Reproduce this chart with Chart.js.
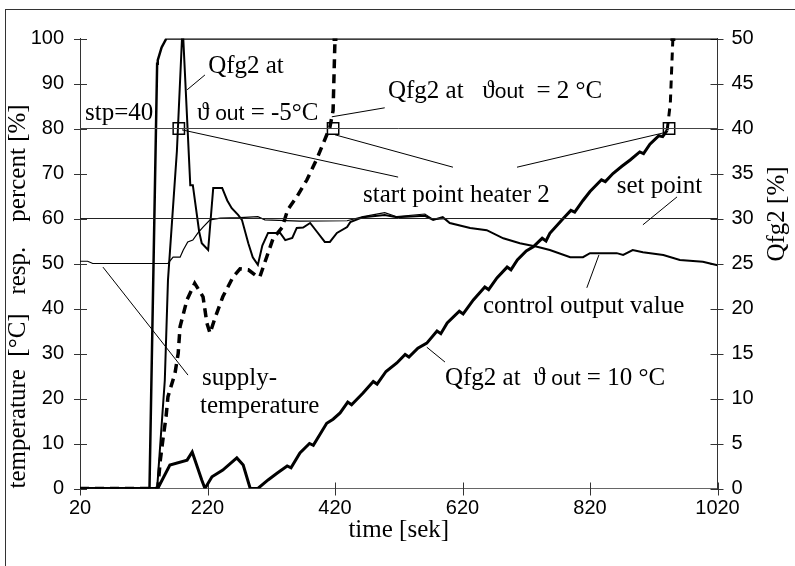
<!DOCTYPE html>
<html>
<head>
<meta charset="utf-8">
<script src="https://cdn.jsdelivr.net/npm/chart.js@4.4.1/dist/chart.umd.min.js"></script>
<style>
  html, body { margin: 0; padding: 0; background: #fff; }
  #wrap { position: relative; width: 795px; height: 566px; overflow: hidden; }
  #frame { position: absolute; left: 5px; top: 9px; width: 900px; height: 700px;
           border-left: 1px solid #333; border-top: 1px solid #333; pointer-events: none; }
</style>
</head>
<body>
<div id="wrap">
  <canvas id="myChart" width="795" height="566"></canvas>
  <div id="frame"></div>
</div>
<script>
// ticks of the time axis
const xTickValues = [20, 220, 420, 620, 820, 1020]

// set point (left axis) and start point heater 2 (right axis)
const setPointTime = [20, 1020]
const setPointValue = [60, 60]
const stpTime = [20, 1020]
const stpValue = [40, 40]

// supply temperature [°C], left axis
const supplyTime = [20, 32, 40, 158, 166, 177, 182, 189, 197, 205, 213, 224, 240, 271, 299, 310, 365, 439, 464, 498, 517, 561, 574, 600, 1020]
const supplyValue = [50.5, 50.5, 50, 50, 51.4, 51.4, 53, 54.8, 55.2, 56.8, 58.1, 59.7, 60.1, 60.2, 60.4, 59.7, 59.4, 59.5, 60.4, 61.3, 60.4, 61, 59.8, 60, 60]

// control output value [%], left axis
const ctrlTime = [20, 141, 153, 158, 172, 180, 182, 193, 197, 207, 211, 221, 229, 243, 251, 258, 268, 274, 284, 291, 299, 306, 315, 334, 342, 353, 360, 370, 381, 392, 404, 412, 423, 439, 444, 464, 498, 517, 561, 574, 589, 600, 632, 658, 684, 710, 737, 757, 789, 809, 820, 862, 872, 887, 903, 935, 961, 997, 1020]
const ctrlValue = [0, 0, 24, 46.3, 75, 100, 100, 67.4, 67.4, 57, 54.5, 53, 66.8, 66.8, 64, 62.3, 60.8, 59.7, 54.5, 51.4, 49.7, 54, 56.8, 56.8, 55.2, 55.7, 57.9, 58, 59, 57, 54.8, 54.8, 56.8, 58.1, 59.2, 60.3, 60.8, 60.3, 60.6, 59.7, 60.3, 59, 57.9, 57.4, 55.6, 54.5, 53.7, 53, 51.4, 51.4, 52.3, 52.3, 51.9, 53, 52.5, 51.9, 50.8, 50.4, 49.6]

// Qfg2 [%] at outside temperature -5 °C, right axis
const q5Time = [20, 129, 141, 142, 148, 155.5, 1020]
const q5Value = [0, 0, 47.2, 47.6, 49, 50, 50]

// Qfg2 [%] at outside temperature 2 °C, right axis
const q2Time = [20, 142, 146, 150, 155, 158, 169, 174, 177, 188, 200, 213, 219, 224, 232, 244, 260, 271, 284, 295, 302, 313, 323, 337, 346, 360, 376, 392, 412, 417, 420]
const q2Value = [0, 0, 3.15, 5.4, 8, 10.2, 12.8, 15, 18, 21, 22.8, 21.3, 18.4, 17.25, 19, 21.3, 23.5, 24.4, 24.3, 23.7, 23.5, 25.75, 27.8, 29, 31, 32.4, 34.3, 36.7, 40.15, 42, 50]

// Qfg2 [%] at outside temperature 10 °C, right axis
const q10Time = [20, 142, 161, 188, 196, 211, 216, 227, 244, 266, 276, 287, 299, 315, 329, 345, 351, 365, 380, 386, 407, 417, 428, 440, 446, 464, 480, 486, 500, 517, 530, 536, 550, 564, 580, 586, 596, 615, 621, 637, 655, 661, 674, 690, 696, 706, 720, 731, 745, 751, 757, 778, 790, 796, 809, 820, 838, 844, 856, 870, 883, 898, 904, 914, 928, 934, 941, 946, 950]
const q10Value = [0, 0, 2.6, 3.15, 4.05, 0.95, 0, 1.3, 2.05, 3.4, 2.6, 0, 0, 0.95, 1.7, 2.5, 2.3, 3.95, 5.0, 4.8, 7.25, 7.7, 8.4, 9.6, 9.3, 10.6, 11.9, 11.6, 13.0, 13.95, 14.9, 14.6, 15.6, 16.15, 17.5, 17.2, 18.4, 19.7, 19.4, 20.95, 22.4, 22.1, 23.4, 24.6, 24.3, 25.4, 26.4, 26.85, 27.8, 27.5, 28.35, 30.0, 30.9, 30.7, 32.0, 33.0, 34.3, 34.1, 35.0, 35.8, 36.5, 37.4, 37.2, 38.25, 39.2, 39.1, 39.8, 42.8, 50]

// points where Qfg2 reaches the start point of heater 2 (right axis)
const startTime = [175, 417, 944]
const startValue = [40, 40, 40]

const SERIF = '"Liberation Serif", "Times New Roman", serif'
const SANS = '"Liberation Sans", Arial, sans-serif'
const NOTE = '25px ' + SERIF
const OUT = '21px ' + SANS

function pts(ts, vs) {
  return ts.map((t, i) => ({ x: t, y: vs[i] }))
}

// text labels and leader lines, placed in data units (time, left axis value)
const notes = [
  { x: 221, y: 92.3, parts: [['Qfg2 at', NOTE]] },
  { x: 203.5, y: 81.9, parts: [['\u03d1', NOTE], [' out', OUT], [' = -5\u00b0C', NOTE]] },
  { x: 28, y: 81.9, parts: [['stp=40', NOTE]] },
  { x: 503, y: 86.8, parts: [['Qfg2 at   ', NOTE], ['\u03d1', NOTE], ['out', OUT], ['  = 2 \u00b0C', NOTE]] },
  { x: 464, y: 63.7, parts: [['start point heater 2', NOTE]] },
  { x: 862, y: 65.7, parts: [['set point', NOTE]] },
  { x: 652, y: 39, parts: [['control output value', NOTE]] },
  { x: 592.5, y: 23, parts: [['Qfg2 at  ', NOTE], ['\u03d1', NOTE], [' out', OUT], [' = 10 \u00b0C', NOTE]] },
  { x: 211.4, y: 23, parts: [['supply-', NOTE]] },
  { x: 208.2, y: 16.8, parts: [['temperature', NOTE]] }
]
const leaders = [
  [216, 91.9, 188, 88.6],
  [498, 84.6, 415, 82.6],
  [180, 79.7, 519, 69.2],
  [420, 78.6, 605, 71.4],
  [934.5, 79, 705.5, 71.4],
  [956.5, 64.8, 903, 58.6],
  [815, 44.6, 834, 51.9],
  [592.5, 28.1, 564, 31.4],
  [56, 49.2, 189.4, 25.2]
]

const decorations = {
  id: 'decorations',
  beforeDatasetsDraw(chart) {
    const { ctx, scales: { x, y, y2 } } = chart
    ctx.save()
    ctx.strokeStyle = '#333'
    ctx.lineWidth = 1
    ctx.beginPath()
    y.ticks.forEach(t => {
      const py = Math.round(y.getPixelForValue(t.value)) + 0.5
      ctx.moveTo(x.left - 6, py); ctx.lineTo(x.left + 7, py)
    })
    y2.ticks.forEach(t => {
      const py = Math.round(y2.getPixelForValue(t.value)) + 0.5
      ctx.moveTo(x.right - 7, py); ctx.lineTo(x.right + 6, py)
    })
    x.ticks.forEach(t => {
      const px = Math.round(x.getPixelForValue(t.value)) + 0.5
      ctx.moveTo(px, y.bottom - 6); ctx.lineTo(px, y.bottom + 7)
    })
    ctx.stroke()
    ctx.restore()
  },
  afterDraw(chart) {
    const { ctx, scales: { x, y } } = chart
    ctx.save()
    ctx.strokeStyle = '#000'
    ctx.lineWidth = 1
    ctx.beginPath()
    leaders.forEach(l => {
      ctx.moveTo(x.getPixelForValue(l[0]), y.getPixelForValue(l[1]))
      ctx.lineTo(x.getPixelForValue(l[2]), y.getPixelForValue(l[3]))
    })
    ctx.stroke()
    ctx.fillStyle = '#000'
    ctx.textBaseline = 'alphabetic'
    ctx.textAlign = 'left'
    notes.forEach(n => {
      let cx = x.getPixelForValue(n.x)
      const cy = y.getPixelForValue(n.y)
      n.parts.forEach(p => {
        ctx.font = p[1]
        ctx.fillText(p[0], cx, cy)
        cx += ctx.measureText(p[0]).width
      })
    })
    // title of the right axis, read from bottom to top
    ctx.translate(chart.width - 18, y.getPixelForValue(61))
    ctx.rotate(-Math.PI / 2)
    ctx.font = NOTE
    ctx.textAlign = 'center'
    ctx.textBaseline = 'middle'
    ctx.fillText('Qfg2 [%]', 0, 0)
    ctx.restore()
  }
}

const lastPoint = c => (c.dataIndex === c.dataset.data.length - 1 ? 3.5 : 0)

const ctx = document.getElementById('myChart').getContext('2d')
const chart = new Chart(ctx, {
  type: 'line',
  data: {
    datasets: [
      { label: 'set point', data: pts(setPointTime, setPointValue), yAxisID: 'y', borderColor: '#222', borderWidth: 1 },
      { label: 'stp=40', data: pts(stpTime, stpValue), yAxisID: 'y2', borderColor: '#444', borderWidth: 1 },
      { label: 'supply-temperature', data: pts(supplyTime, supplyValue), yAxisID: 'y', borderColor: '#000', borderWidth: 1.2 },
      { label: 'control output value', data: pts(ctrlTime, ctrlValue), yAxisID: 'y', borderColor: '#000', borderWidth: 2 },
      { label: 'Qfg2 at -5 °C', data: pts(q5Time, q5Value), yAxisID: 'y2', borderColor: '#000', borderWidth: 2.5 },
      { label: 'Qfg2 at 2 °C', data: pts(q2Time, q2Value), yAxisID: 'y2', borderColor: '#000', borderWidth: 3.5,
        borderDash: [9, 6], pointRadius: lastPoint, pointStyle: 'rect', pointBackgroundColor: '#000', pointBorderWidth: 0 },
      { label: 'Qfg2 at 10 °C', data: pts(q10Time, q10Value), yAxisID: 'y2', borderColor: '#000', borderWidth: 3,
        segment: { borderDash: c => (c.p0DataIndex >= q10Time.length - 3 ? [8, 6] : undefined) },
        pointRadius: lastPoint, pointStyle: 'rect', pointBackgroundColor: '#000', pointBorderWidth: 0 },
      { label: 'start point heater 2', data: pts(startTime, startValue), yAxisID: 'y2', showLine: false,
        pointStyle: 'rect', pointRadius: 8, pointBorderWidth: 1.5, pointBorderColor: '#000', pointBackgroundColor: 'rgba(0,0,0,0)' }
    ]
  },
  options: {
    responsive: false,
    animation: false,
    devicePixelRatio: 1,
    events: [],
    layout: { padding: { top: 38.5, left: 0, right: 0, bottom: 0 } },
    elements: {
      point: { radius: 0 },
      line: { tension: 0, fill: false, borderJoinStyle: 'miter' }
    },
    plugins: { legend: { display: false }, tooltip: { enabled: false } },
    scales: {
      x: {
        type: 'linear', position: 'bottom', min: 20, max: 1020,
        afterBuildTicks: s => { s.ticks = xTickValues.map(v => ({ value: v })) },
        afterFit: s => { s.height = 77.5 },
        ticks: { color: '#000', padding: 8, maxRotation: 0, autoSkip: false, callback: v => String(v),
                 font: { family: SANS, size: 20 } },
        grid: { display: false, drawTicks: false },
        border: { display: true, color: '#666', width: 1 },
        title: { display: true, text: 'time [sek]', color: '#000', font: { family: SERIF, size: 25 }, padding: { top: 0, bottom: 21 } }
      },
      y: {
        position: 'left', min: 0, max: 100,
        afterFit: s => { s.width = 80 },
        ticks: { stepSize: 10, color: '#000', padding: 16, font: { family: SANS, size: 20 } },
        grid: { display: false, drawTicks: false },
        border: { display: true, color: '#333', width: 1 },
        title: { display: true, align: 'start', text: 'temperature  [\u00b0C]   resp.    percent [%]', color: '#000',
                 font: { family: SERIF, size: 25 }, padding: { top: 3, bottom: 0 } }
      },
      y2: {
        position: 'right', min: 0, max: 50,
        afterFit: s => { s.width = 77.5 },
        ticks: { stepSize: 5, color: '#000', padding: 14, font: { family: SANS, size: 20 } },
        grid: { display: false, drawTicks: false },
        border: { display: true, color: '#333', width: 1 }
      }
    }
  },
  plugins: [decorations]
})
</script>
</body>
</html>
